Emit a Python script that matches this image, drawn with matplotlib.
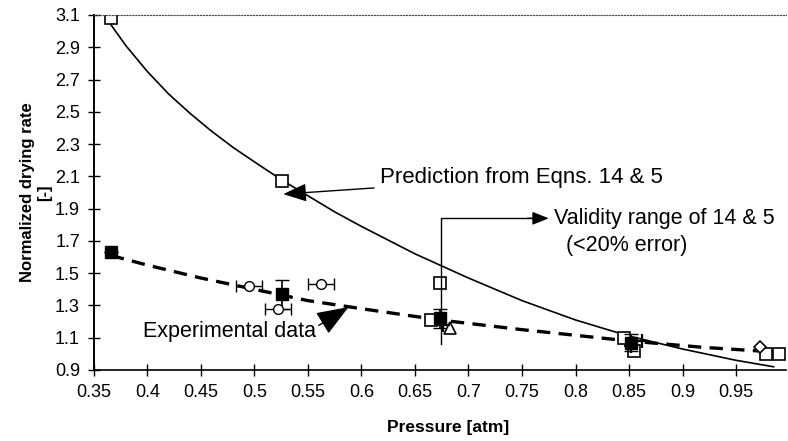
import matplotlib
matplotlib.use("Agg")
import matplotlib.pyplot as plt

plt.rcParams['font.family'] = ['Liberation Sans', 'DejaVu Sans']

# prediction curve (Eqns. 14 & 5)
pred_p = [0.366, 0.38, 0.40, 0.42, 0.44, 0.46, 0.48, 0.50, 0.525, 0.55, 0.575,
          0.60, 0.65, 0.70, 0.75, 0.80, 0.85, 0.90, 0.95, 0.985]
pred_r = [3.04, 2.91, 2.75, 2.61, 2.49, 2.38, 2.28, 2.19, 2.08, 1.98, 1.88,
          1.79, 1.62, 1.47, 1.33, 1.21, 1.11, 1.03, 0.96, 0.92]

# experimental trend line
trend_p = [0.366, 0.40, 0.45, 0.50, 0.55, 0.60, 0.673, 0.75, 0.85, 0.92, 0.99]
trend_r = [1.61, 1.55, 1.47, 1.40, 1.33, 1.28, 1.21, 1.15, 1.08, 1.04, 1.01]

# predicted points (open squares)
sq_open_p = [0.366, 0.526, 0.673, 0.665, 0.845, 0.855, 0.978, 0.990]
sq_open_r = [3.08, 2.07, 1.44, 1.21, 1.10, 1.02, 1.00, 1.00]

# measured points
sq_fill_p = [0.366, 0.526, 0.673, 0.852]
sq_fill_r = [1.63, 1.37, 1.22, 1.07]
sq_fill_err = [0.0, 0.09, 0.06, 0.05]
circ_p = [0.495, 0.522, 0.562]
circ_r = [1.42, 1.28, 1.43]
tri_p = [0.683]
tri_r = [1.16]
dia_p = [0.972]
dia_r = [1.04]
plus_p = [0.676, 0.852, 0.862]
plus_r = [1.18, 1.05, 1.08]

fig = plt.figure(figsize=(7.88, 4.41), dpi=100)
ax = fig.add_axes([0.119, 0.161, 0.879, 0.805])

ax.plot(pred_p, pred_r, color='black', lw=1.2)
ax.plot(trend_p, trend_r, color='black', lw=2.4, ls=(0, (4, 2.5)))

ax.plot(sq_open_p, sq_open_r, 's', ms=8, mfc='white', mec='black', mew=1.2)
ax.errorbar(sq_fill_p, sq_fill_r, yerr=sq_fill_err, fmt='s', ms=8,
            color='black', ecolor='black', elinewidth=1.2, capsize=5)
ax.errorbar(circ_p, circ_r, xerr=0.012, fmt='o', ms=7, mfc='white',
            mec='black', ecolor='black', elinewidth=1.0, capsize=4)
ax.plot(tri_p, tri_r, '^', ms=8, mfc='white', mec='black', mew=1.2)
ax.plot(dia_p, dia_r, 'D', ms=6, mfc='white', mec='black', mew=1.2)
ax.plot(plus_p, plus_r, '+', ms=10, color='black', mew=1.6)

ax.set_xlim(0.35, 0.997)
ax.set_ylim(0.9, 3.1)
xt = [0.35, 0.4, 0.45, 0.5, 0.55, 0.6, 0.65, 0.7, 0.75, 0.8, 0.85, 0.9, 0.95]
ax.set_xticks(xt)
ax.set_xticklabels([('%g' % v) for v in xt])
yt = [0.9, 1.1, 1.3, 1.5, 1.7, 1.9, 2.1, 2.3, 2.5, 2.7, 2.9, 3.1]
ax.set_yticks(yt)
ax.set_yticklabels([('%.1f' % v) for v in yt])
ax.tick_params(direction='inout', length=8, width=1, labelsize=13, pad=6)

ax.spines['right'].set_visible(False)
ax.spines['top'].set_linestyle(':')
ax.spines['top'].set_color('#444444')
ax.spines['left'].set_linewidth(1.4)
ax.spines['bottom'].set_linewidth(1.2)

ax.set_xlabel('Pressure [atm]', fontsize=12.5, fontweight='bold')
ax.xaxis.set_label_coords(0.511, -0.14)
ax.set_ylabel('Normalized drying rate\n[-]', fontsize=12, fontweight='bold',
              labelpad=2)

# annotations
big = 15.5
ax.annotate('Prediction from Eqns. 14 & 5', xy=(0.527, 1.99), xytext=(0.617, 2.09),
            fontsize=16, va='center',
            arrowprops=dict(arrowstyle='-|>,head_length=0.9,head_width=0.35',
                            color='black', lw=1.0, shrinkA=2, shrinkB=0))
ax.plot([0.674, 0.674, 0.76], [1.06, 1.84, 1.84], color='black', lw=1.0)
ax.annotate('', xy=(0.775, 1.84), xytext=(0.755, 1.84),
            arrowprops=dict(arrowstyle='-|>,head_length=1.0,head_width=0.4',
                            color='black', lw=1.0, shrinkA=0, shrinkB=0))
ax.text(0.78, 1.84, 'Validity range of 14 & 5', fontsize=big, va='center')
ax.text(0.791, 1.67, '(<20% error)', fontsize=big, va='center')
ax.annotate('Experimental data', xy=(0.588, 1.29), xytext=(0.396, 1.14),
            fontsize=big, va='center',
            arrowprops=dict(arrowstyle='-|>,head_length=1.3,head_width=0.5',
                            color='black', lw=1.0, shrinkA=0, shrinkB=0,
                            relpos=(1.0, 0.7)))

fig.savefig('out.png', dpi=100)
